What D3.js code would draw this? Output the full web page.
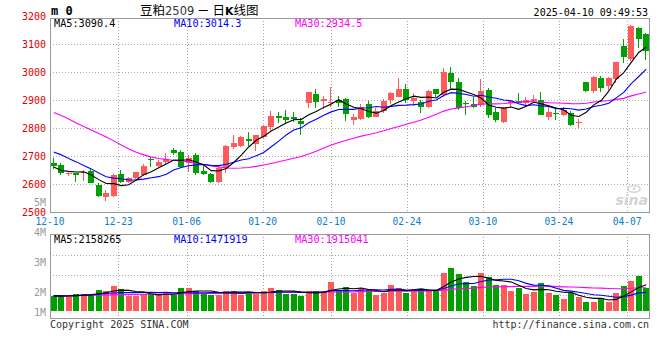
<!DOCTYPE html>
<html><head><meta charset="utf-8">
<script src="https://cdn.jsdelivr.net/npm/d3@7"></script>
<style>
html,body{margin:0;padding:0;background:#fff;}
svg{display:block;}
text{font-family:"DejaVu Sans Mono",monospace;}
</style></head><body>
<svg id="chart" width="660" height="360"></svg>
<script>
// ---------- data ----------
const dates = [
 "12-10","12-11","12-12","12-13","12-16","12-17","12-18","12-19","12-20","12-23",
 "12-24","12-25","12-26","12-27","12-30","12-31","01-02","01-03","01-06","01-07",
 "01-08","01-09","01-10","01-13","01-14","01-15","01-16","01-17","01-20","01-21",
 "01-22","01-23","01-24","01-27","02-05","02-06","02-07","02-10","02-11","02-12",
 "02-13","02-14","02-17","02-18","02-19","02-20","02-21","02-24","02-25","02-26",
 "02-27","02-28","03-03","03-04","03-05","03-06","03-07","03-10","03-11","03-12",
 "03-13","03-14","03-17","03-18","03-19","03-20","03-21","03-24","03-25","03-26",
 "03-27","03-28","03-31","04-01","04-02","04-03","04-07","04-08","04-09","04-10"];
const openP = [
 2676,2668,2637,2640,2638,2647,2596,2555,2557,2635,
 2608,2622,2632,2690,2664,2680,2721,2715,2674,2704,
 2645,2636,2608,2656,2731,2736,2761,2743,2767,2805,
 2843,2838,2838,2826,2890,2921,2898,2890,2900,2903,
 2829,2831,2886,2840,2862,2900,2912,2939,2896,2894,
 2876,2939,2918,2995,2965,2891,2886,2882,2936,2858,
 2822,2888,2898,2890,2896,2900,2838,2853,2846,2855,
 2817,2965,2933,2977,2950,2974,3093,3045,3156,3136];
const highP = [
 2692,2676,2647,2641,2650,2652,2605,2579,2635,2650,
 2626,2644,2671,2695,2684,2710,2727,2721,2704,2712,
 2664,2640,2662,2739,2775,2770,2787,2775,2811,2862,
 2858,2864,2857,2835,2930,2940,2915,2947,2916,2906,
 2850,2887,2896,2873,2904,2929,2977,2957,2924,2900,
 2936,2939,3013,3019,2977,2898,2912,2974,2943,2871,
 2874,2900,2926,2912,2918,2930,2874,2870,2874,2862,
 2831,2965,2986,2986,2981,3037,3117,3167,3160,3138];
const lowP = [
 2652,2632,2629,2608,2612,2602,2555,2540,2555,2602,
 2602,2617,2629,2660,2660,2668,2704,2657,2644,2632,
 2632,2605,2605,2638,2724,2733,2736,2718,2763,2790,
 2817,2814,2821,2775,2870,2870,2867,2876,2874,2825,
 2811,2829,2836,2838,2853,2887,2910,2889,2879,2855,
 2870,2912,2912,2936,2864,2846,2870,2876,2836,2821,
 2817,2876,2888,2879,2888,2846,2829,2829,2843,2807,
 2799,2929,2926,2930,2936,2960,3033,3040,3085,3043];
const closeP = [
 2664,2638,2639,2633,2644,2605,2557,2569,2632,2608,
 2620,2642,2665,2684,2680,2688,2710,2662,2692,2640,
 2636,2608,2656,2736,2748,2767,2754,2775,2807,2843,
 2837,2829,2831,2814,2927,2894,2902,2892,2890,2849,
 2838,2876,2840,2862,2896,2926,2939,2900,2908,2874,
 2933,2921,3001,2965,2870,2887,2876,2932,2846,2829,
 2872,2896,2890,2900,2902,2846,2857,2851,2864,2811,
 2822,2933,2983,2942,2977,3036,3052,3165,3118,3075];
const volume = [
 1300000,1300000,1200000,1500000,1500000,1400000,1800000,1700000,2150000,1900000,
 1300000,1300000,1450000,1450000,1400000,1550000,1350000,2000000,2000000,1700000,
 1500000,1400000,1400000,1750000,1700000,1400000,1500000,1500000,1750000,2000000,
 1800000,1500000,1500000,1300000,1750000,1700000,1700000,2450000,1800000,2070000,
 1530000,2000000,1800000,1380000,1530000,2240000,2000000,1530000,1800000,1900000,
 1800000,1800000,3240000,3670000,3180000,2520000,2150000,3300000,2900000,2240000,
 2240000,1730000,1960000,1470000,1670000,2440000,1580000,1330000,1040000,1580000,
 1240000,730000,810000,1100000,810000,1530000,2150000,2600000,3000000,1960000];
// moving-average values read off the picture where earlier history is not shown
const ma5Head  = [2661,2648,2645,2643];
const ma10Head = [2714,2704,2691,2679,2666,2654,2639,2626,2621];
const ma30Head = [2855,2845,2832,2818,2805,2793,2780,2768,2754,2739,
                  2725,2713,2704,2696,2691,2688,2684,2682,2679,2673,
                  2670,2664,2661,2657,2656,2657,2659,2663,2668];
const vma5Head  = [1320000,1300000,1280000,1320000];
const vma10Head = [1250000,1270000,1290000,1320000,1360000,1400000,1450000,1500000,1540000];
const vma30Head = [1300000,1310000,1310000,1320000,1330000,1340000,1350000,1370000,1380000,1400000,
                   1410000,1420000,1430000,1440000,1450000,1450000,1460000,1470000,1480000,1490000,
                   1500000,1500000,1510000,1520000,1520000,1530000,1540000,1550000,1560000];
const priceTicks = [2500,2600,2700,2800,2900,3000,3100,3200];
const dateTicks = ["12-10","12-23","01-06","01-20","02-10","02-24","03-10","03-24","04-07"];
const volTicks = [1000000,2000000,3000000,4000000,5000000];
const priceLegend = ["MA5:3090.4","MA10:3014.3","MA30:2934.5"];
const volLegend = ["MA5:2158265","MA10:1471919","MA30:1915041"];
const maColors = ["#000000","#0000ff","#ff00ff"];

// ---------- helpers ----------
function movingAvg(vals, n, head){
  return vals.map((v,i)=>{
    if(i < n-1) return head[i];
    return d3.mean(vals.slice(i-n+1, i+1));
  });
}

// ---------- layout ----------
const L = 50, R = 650;
const pTop = 18, pBot = 212;
const vTop = 234, vBot = 318;
const UP = "#ff5a5a", DOWN = "#00a000";

const svg = d3.select("#chart");
const xB = d3.scaleBand().domain(dates).range([L,R]).paddingInner(0.2).paddingOuter(0.1);
const xG = d3.scalePoint().domain(dates).range([L,R]);
const yP = d3.scaleLinear().domain([2500,3200]).range([212,16]);
const yV = d3.scaleLinear().domain([0,6600000]).range([311,234]);
const volLabelY = d3.scaleLinear().domain([2000000,5000000]).range([291,201]);

const bw = Math.round(xB.bandwidth());
const cx = d => xB(d) + xB.bandwidth()/2;
const left = d => Math.round(xB(d));

// ---------- grids ----------
const grid = svg.append("g").attr("stroke","#a8a8a8").attr("stroke-dasharray","1,2").attr("shape-rendering","crispEdges");
grid.selectAll(".hg").data(priceTicks.filter(p=>p>2500 && p<3200)).enter().append("line")
  .attr("x1",L).attr("x2",R).attr("y1",p=>yP(p)+0.5).attr("y2",p=>yP(p)+0.5);
grid.selectAll(".vg").data(dateTicks.slice(1)).enter().append("line")
  .attr("x1",d=>Math.round(xG(d))+0.5).attr("x2",d=>Math.round(xG(d))+0.5)
  .attr("y1",pTop).attr("y2",pBot);
grid.selectAll(".vg2").data(dateTicks.slice(1)).enter().append("line")
  .attr("x1",d=>Math.round(xG(d))+0.5).attr("x2",d=>Math.round(xG(d))+0.5)
  .attr("y1",vTop).attr("y2",vBot);
grid.selectAll(".vh").data(d3.range(3)).enter().append("line")
  .attr("x1",L).attr("x2",R).attr("y1",k=>vTop+21+k*20+0.5).attr("y2",k=>vTop+21+k*20+0.5);

// ---------- frames ----------
svg.append("rect").attr("x",L+0.5).attr("y",pTop+0.5).attr("width",R-L-1).attr("height",pBot-pTop)
  .attr("fill","none").attr("stroke","#999").attr("shape-rendering","crispEdges");
svg.append("rect").attr("x",L+0.5).attr("y",vTop+0.5).attr("width",R-L-1).attr("height",vBot-vTop)
  .attr("fill","none").attr("stroke","#999").attr("shape-rendering","crispEdges");

// ---------- watermark ----------
svg.append("ellipse").attr("cx",634).attr("cy",189).attr("rx",6).attr("ry",3.2)
  .attr("fill","none").attr("stroke","#d4d4d4").attr("stroke-width",1.6);
svg.append("circle").attr("cx",634).attr("cy",189).attr("r",1.4).attr("fill","#d4d4d4");
svg.append("text").attr("x",648).attr("y",205).attr("text-anchor","end").attr("font-size",14)
  .attr("font-style","italic").attr("font-weight","bold").attr("fill","#d4d4d4")
  .style("font-family","'DejaVu Sans',sans-serif").text("sina");

// ---------- candles ----------
const candles = dates.map((d,i)=>({d,o:openP[i],h:highP[i],l:lowP[i],c:closeP[i],v:volume[i]}));
const cg = svg.append("g").attr("shape-rendering","crispEdges");
cg.selectAll(".wick").data(candles).enter().append("line")
  .attr("x1",k=>left(k.d)+2.5).attr("x2",k=>left(k.d)+2.5)
  .attr("y1",k=>Math.round(yP(k.h))).attr("y2",k=>Math.round(yP(k.l)))
  .attr("stroke",k=>k.c>=k.o?UP:DOWN);
cg.selectAll(".body").data(candles).enter().append("rect")
  .attr("x",k=>left(k.d)).attr("width",bw)
  .attr("y",k=>Math.round(yP(Math.max(k.o,k.c))))
  .attr("height",k=>Math.max(1,Math.round(yP(Math.min(k.o,k.c)))-Math.round(yP(Math.max(k.o,k.c)))))
  .attr("fill",k=>k.c>=k.o?UP:DOWN);

// ---------- volume bars ----------
cg.selectAll(".vol").data(candles).enter().append("rect")
  .attr("x",k=>left(k.d)).attr("width",bw)
  .attr("y",k=>Math.round(yV(k.v))).attr("height",k=>Math.round(yV(0))-Math.round(yV(k.v)))
  .attr("fill",k=>k.c>=k.o?UP:DOWN);

// ---------- MA lines ----------
const pMAs = [movingAvg(closeP,5,ma5Head), movingAvg(closeP,10,ma10Head), movingAvg(closeP,30,ma30Head)];
const vMAs = [movingAvg(volume,5,vma5Head), movingAvg(volume,10,vma10Head), movingAvg(volume,30,vma30Head)];
const lineP = d3.line().x((v,i)=>cx(dates[i])).y(v=>yP(v));
const lineV = d3.line().x((v,i)=>cx(dates[i])).y(v=>yV(v));
[2,1,0].forEach(k=>{
  svg.append("path").attr("d",lineP(pMAs[k])).attr("fill","none").attr("stroke",maColors[k]).attr("stroke-width",1.1);
  svg.append("path").attr("d",lineV(vMAs[k])).attr("fill","none").attr("stroke",maColors[k]).attr("stroke-width",1.1);
});

// ---------- axis labels ----------
svg.append("g").selectAll("text").data(priceTicks).enter().append("text")
  .attr("x",46).attr("y",p=>yP(p)+4).attr("text-anchor","end")
  .attr("font-size",10).attr("fill","#e00000").text(p=>p);
svg.append("g").selectAll("text").data(volTicks).enter().append("text")
  .attr("x",46).attr("y",v=>Math.min(volLabelY(v),311)+4.5).attr("text-anchor","end")
  .attr("font-size",10).attr("fill","#999").text(v=>(v/1000000)+"M");
svg.append("g").selectAll("text").data(dateTicks).enter().append("text")
  .attr("x",d=>xG(d)).attr("y",224.5).attr("text-anchor","middle")
  .attr("font-size",9.6).attr("fill","#0a80c8").text(d=>d);

// ---------- legends ----------
const legX = [54,174,295];
svg.append("g").selectAll("text").data(priceLegend).enter().append("text")
  .attr("x",(t,i)=>legX[i]).attr("y",27).attr("font-size",10.2)
  .attr("fill",(t,i)=>maColors[i]).text(t=>t);
svg.append("g").selectAll("text").data(volLegend).enter().append("text")
  .attr("x",(t,i)=>legX[i]).attr("y",243).attr("font-size",10.2)
  .attr("fill",(t,i)=>maColors[i]).text(t=>t);

// ---------- header / footer ----------
svg.append("text").attr("x",51).attr("y",15).attr("font-size",12).attr("font-weight","bold")
  .attr("fill","#000").text("m 0");
const title = svg.append("text").attr("x",140).attr("y",15).attr("font-size",12.5)
  .attr("fill","#000").style("font-family","'Noto Sans CJK SC',sans-serif");
title.append("tspan").text("豆粕");
title.append("tspan").style("font-family","'DejaVu Sans',sans-serif").attr("font-size",11.5).attr("fill","#333").text("2509");
title.append("tspan").text(" － 日");
title.append("tspan").attr("font-weight","bold").style("font-family","'DejaVu Sans',sans-serif").attr("font-size",11).text("K");
title.append("tspan").text("线图");
svg.append("text").attr("x",648).attr("y",16).attr("text-anchor","end").attr("font-size",10)
  .attr("fill","#000").text("2025-04-10 09:49:53");
svg.append("text").attr("x",50).attr("y",328).attr("font-size",10).attr("fill","#333")
  .text("Copyright 2025 SINA.COM");
svg.append("text").attr("x",649).attr("y",328).attr("text-anchor","end").attr("font-size",10).attr("fill","#333")
  .text("http://finance.sina.com.cn");
</script>
</body></html>
